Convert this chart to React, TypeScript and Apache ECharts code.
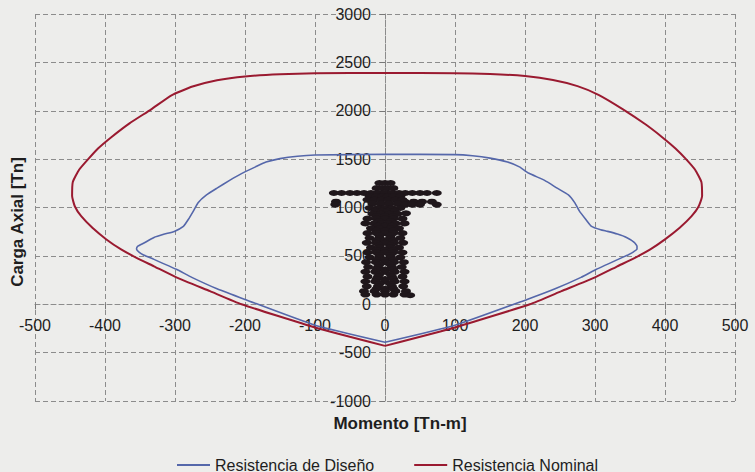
import React, { useEffect, useRef } from "react";
import * as echarts from "echarts";

// Interaction diagram data: [Momento (Tn-m), Carga Axial (Tn)]
const nominalCurve: [number, number][] = [
  [0, -430], [-100, -240], [-205, 0], [-250, 135], [-298, 278], [-330, 392], [-355, 480],
  [-377, 567], [-398, 670], [-418, 790], [-434, 910], [-443, 1010], [-447, 1118],
  [-446, 1263], [-437, 1390], [-424, 1500], [-410, 1610], [-391, 1727], [-365, 1870],
  [-334, 2015], [-305, 2160], [-275, 2250], [-240, 2315], [-200, 2355], [-150, 2378], [-100, 2387],
  [0, 2390], [100, 2388], [150, 2380], [200, 2358], [240, 2318], [275, 2255], [305, 2165], [340, 2015],
  [372, 1860], [396, 1727], [415, 1610], [430, 1500], [443, 1390], [452, 1263], [453, 1118],
  [448, 1010], [438, 910], [421, 790], [400, 670], [379, 567], [357, 480], [332, 392],
  [300, 278], [252, 135], [207, 0], [100, -240], [0, -430],
];

const designCurve: [number, number][] = [
  [0, -392], [-100, -216], [-200, 50], [-240, 160], [-276, 278], [-298, 361], [-330, 464],
  [-345, 510], [-351, 536], [-355, 570], [-353, 600], [-345, 630], [-330, 690], [-315, 725],
  [-301, 753], [-288, 804], [-281, 876], [-274, 960], [-267, 1050], [-255, 1130], [-240, 1200],
  [-222, 1280], [-205, 1350], [-185, 1420], [-170, 1470], [-150, 1505], [-125, 1530],
  [-100, 1542], [0, 1550], [100, 1547], [125, 1535], [150, 1510], [175, 1470], [192, 1420],
  [205, 1356], [228, 1280], [246, 1200], [262, 1130], [271, 1050], [278, 960], [287, 876],
  [295, 805], [308, 770], [318, 753], [332, 725], [345, 690], [356, 640], [360, 600],
  [360, 570], [354, 536], [347, 510], [333, 464], [302, 361], [280, 278], [243, 160],
  [203, 50], [100, -216], [0, -392],
];

const demandPoints: [number, number][] = [
  [-8, 1253], [0, 1253], [8, 1253],
  [-12, 1200], [-4, 1200], [4, 1200], [12, 1200],
  [-73, 1150], [-62, 1150], [-50, 1150], [-40, 1150], [-30, 1150], [-20, 1150], [-10, 1150],
  [0, 1150], [10, 1150], [20, 1150], [29, 1150], [39, 1150], [50, 1150], [60, 1150], [74, 1150],
  [-22, 1115], [-12, 1115], [-4, 1115], [4, 1115], [12, 1115], [22, 1115],
  [-70, 1060], [-25, 1080], [-15, 1080], [-5, 1080], [5, 1080], [15, 1080], [25, 1080],
  [28, 1060], [41, 1060], [53, 1060], [67, 1060],
  [-71, 1030], [-18, 1040], [-6, 1040], [6, 1040], [18, 1040], [29, 1030], [39, 1030],
  [50, 1030], [74, 1030],
  [-22, 995], [-10, 995], [0, 995], [10, 995], [22, 995],
  [-14, 965], [-4, 965], [4, 965], [14, 965],
  [-18, 935], [-6, 935], [6, 935], [18, 935], [30, 940],
  [-12, 910], [0, 910], [12, 910],
  [-25, 885], [-12, 885], [0, 885], [12, 885], [25, 885],
  [-8, 860], [8, 860],
  [-28, 835], [-15, 835], [-5, 835], [5, 835], [15, 835], [28, 835],
  [-10, 810], [0, 810], [10, 810],
  [-20, 785], [-8, 785], [8, 785], [20, 785],
  [-12, 760], [0, 760], [12, 760],
  [-25, 735], [-12, 735], [0, 735], [12, 735], [25, 735],
  [-8, 710], [8, 710],
  [-22, 685], [-8, 685], [8, 685], [22, 685],
  [-12, 660], [0, 660], [12, 660],
  [-26, 635], [-13, 635], [0, 635], [13, 635], [26, 635],
  [-8, 610], [8, 610],
  [-20, 585], [-7, 585], [7, 585], [20, 585],
  [-12, 560], [0, 560], [12, 560],
  [-25, 535], [-12, 535], [0, 535], [12, 535], [25, 535],
  [-8, 510], [8, 510],
  [-22, 485], [-8, 485], [8, 485], [22, 485],
  [-12, 460], [0, 460], [12, 460],
  [-27, 435], [-13, 435], [0, 435], [13, 435], [27, 435],
  [-8, 410], [8, 410],
  [-24, 385], [-10, 385], [10, 385], [24, 385],
  [-12, 360], [0, 360], [12, 360],
  [-28, 335], [-14, 335], [0, 335], [14, 335], [28, 335],
  [-8, 310], [8, 310],
  [-25, 285], [-10, 285], [10, 285], [25, 285],
  [-12, 260], [0, 260], [12, 260],
  [-28, 235], [-14, 235], [0, 235], [14, 235], [28, 235],
  [-8, 210], [8, 210],
  [-26, 185], [-10, 185], [10, 185], [26, 185],
  [-12, 160], [0, 160], [12, 160],
  [-30, 135], [-15, 135], [0, 135], [15, 135], [30, 135],
  [-28, 100], [-12, 100], [0, 100], [12, 100], [28, 100], [36, 93],
];

const seriesNames = ["Resistencia de Diseño", "Resistencia Nominal"];
const xTitle = "Momento [Tn-m]";
const yTitle = "Carga Axial [Tn]";
const xRange = { min: -500, max: 500, interval: 100 };
const yRange = { min: -1000, max: 3000, interval: 500 };

const FONT = '"Liberation Sans", Arial, sans-serif';
const gridLine = { color: "#8c8c8c", width: 1, type: [5, 3] as number[] };

const GRID = { left: 35, right: 20, top: 14, bottom: 71 };
const W = 755;
const H = 472;

export default function App() {
  const ref = useRef<HTMLDivElement>(null);
  useEffect(() => {
    if (!ref.current) return;
    const chart = echarts.init(ref.current, undefined, { renderer: "svg" });
    const plotW = W - GRID.left - GRID.right;
    const plotH = H - GRID.top - GRID.bottom;
    // axes cross at the origin: shift them from the grid edges
    const yAxisOffset = -(plotW * (0 - xRange.min)) / (xRange.max - xRange.min);
    const xAxisOffset = -(plotH * (0 - yRange.min)) / (yRange.max - yRange.min);
    const plain = (v: number) => String(v);
    chart.setOption({
      animation: false,
      backgroundColor: "#ededeb",
      textStyle: { fontFamily: FONT },
      grid: {
        ...GRID,
        containLabel: false,
        outerBoundsMode: "none",
      },
      legend: {
        data: seriesNames,
        left: 172,
        top: 452,
        icon: "rect",
        itemWidth: 33,
        itemHeight: 2,
        itemGap: 40,
        textStyle: { fontFamily: FONT, fontSize: 16, color: "#1e1e1e" },
      },
      xAxis: {
        type: "value",
        min: xRange.min,
        max: xRange.max,
        interval: xRange.interval,
        position: "bottom",
        offset: xAxisOffset,
        axisLine: { onZero: false, lineStyle: gridLine },
        axisTick: { show: true, length: 5, lineStyle: { color: "#777" } },
        axisLabel: { fontFamily: FONT, fontSize: 16, color: "#1e1e1e", margin: 13, formatter: plain },
        splitLine: { show: true, lineStyle: gridLine },
      },
      yAxis: {
        type: "value",
        min: yRange.min,
        max: yRange.max,
        interval: yRange.interval,
        position: "left",
        offset: yAxisOffset,
        axisLine: { show: true, onZero: false, lineStyle: gridLine },
        axisTick: { show: true, length: 5, lineStyle: { color: "#777" } },
        axisLabel: { fontFamily: FONT, fontSize: 16, color: "#1e1e1e", margin: 14, formatter: plain },
        splitLine: { show: true, lineStyle: gridLine },
      },
      graphic: [
        {
          type: "text",
          x: 17,
          y: 222,
          rotation: Math.PI / 2,
          style: {
            text: yTitle,
            font: `bold 17px ${FONT}`,
            fill: "#1e1e1e",
            textAlign: "center",
            textVerticalAlign: "middle",
          },
        },
        {
          type: "text",
          x: 400,
          y: 423,
          style: {
            text: xTitle,
            font: `bold 17px ${FONT}`,
            fill: "#1e1e1e",
            textAlign: "center",
            textVerticalAlign: "middle",
          },
        },
      ],
      series: [
        {
          name: seriesNames[0],
          type: "line",
          data: designCurve,
          showSymbol: false,
          symbol: "none",
          smooth: 0.15,
          lineStyle: { color: "#5567aa", width: 1.6 },
          itemStyle: { color: "#5567aa" },
          z: 3,
        },
        {
          name: seriesNames[1],
          type: "line",
          data: nominalCurve,
          showSymbol: false,
          symbol: "none",
          smooth: 0.15,
          lineStyle: { color: "#9a1a30", width: 2 },
          itemStyle: { color: "#9a1a30" },
          z: 3,
        },
        {
          name: "Demanda",
          type: "scatter",
          data: demandPoints,
          symbol: "circle",
          symbolSize: [10, 6],
          itemStyle: { color: "#1f171b", opacity: 1 },
          z: 4,
        },
      ],
    });
    return () => chart.dispose();
  }, []);
  return (
    <div
      ref={ref}
      style={{ position: "fixed", left: 0, top: 0, width: W, height: H }}
    />
  );
}
